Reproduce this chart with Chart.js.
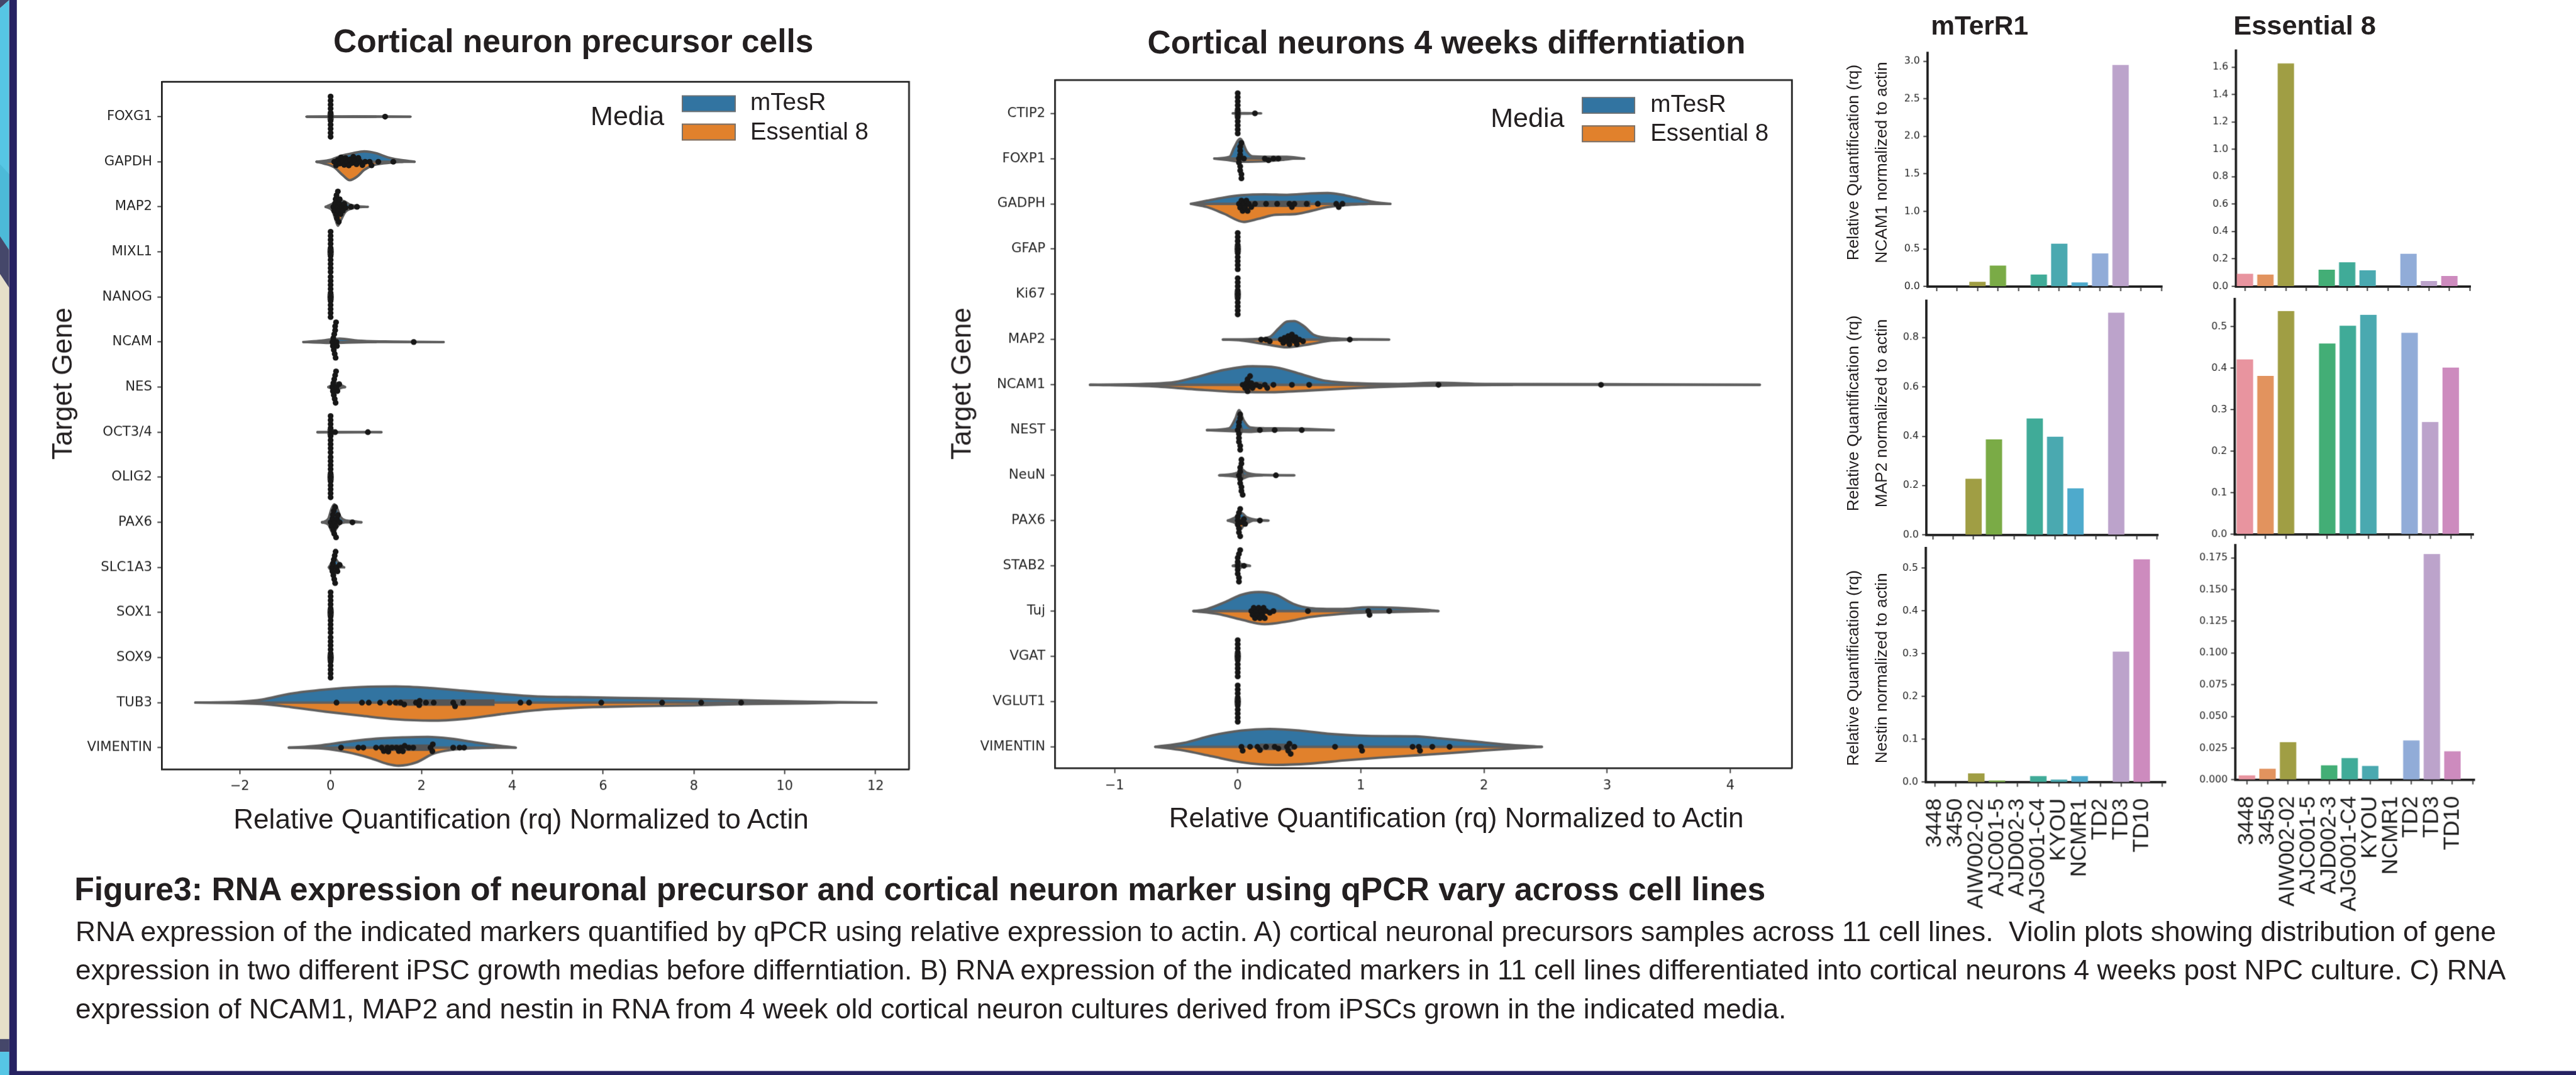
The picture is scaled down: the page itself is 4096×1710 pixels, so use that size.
<!DOCTYPE html>
<html>
<head>
<meta charset="utf-8">
<title>Figure 3 - qPCR expression</title>
<script src="https://cdn.jsdelivr.net/npm/chart.js@4.4.1/dist/chart.umd.min.js"></script>
<style>
  html, body { margin: 0; padding: 0; width: 4096px; height: 1710px; background: #fff; overflow: hidden; }
  #stage { position: absolute; left: 0; top: 0; width: 4436px; height: 1852px;
           transform: scale(0.923354); transform-origin: 0 0;
           font-family: "Liberation Sans", Arial, sans-serif; color: #231f20; }
  .deco, .plot, .t, .sw { position: absolute; }
  .t { white-space: nowrap; line-height: 1; }
  .sw { box-sizing: border-box; border: 2px solid #707070; }
</style>
</head>
<body>
<div id="stage">
  <!-- poster border on the left and bottom -->
  <div class="deco" style="left:0;top:0;width:16px;height:1852px;background:#e6e0c9"></div>
  <div class="deco" style="left:0;top:0;width:16px;height:14px;background:#45476a;clip-path:polygon(0 0,100% 0,0 100%)"></div>
  <div class="deco" style="left:0;top:0;width:16px;height:500px;background:#56c6e5;clip-path:polygon(0 14px,100% 0,100% 431px,0 407px)"></div>
  <div class="deco" style="left:0;top:0;width:16px;height:500px;background:#4cbad8;clip-path:polygon(0 283px,100% 300px,100% 431px,0 407px)"></div>
  <div class="deco" style="left:0;top:0;width:16px;height:500px;background:#45476a;clip-path:polygon(0 407px,100% 431px,100% 496px,0 472px)"></div>
  <div class="deco" style="left:0;top:1790px;width:16px;height:22px;background:#45476a"></div>
  <div class="deco" style="left:0;top:1812px;width:16px;height:40px;background:#56c6e5"></div>
  <div class="deco" style="left:16px;top:0;width:13px;height:1852px;background:#262262"></div>
  <div class="deco" style="left:16px;top:1845px;width:4420px;height:7px;background:#262262"></div>

  <div class="plot" id="vA"><canvas></canvas></div>
  <div class="plot" id="vB"><canvas></canvas></div>
  <div class="plot" id="bMN"><canvas></canvas></div>
  <div class="plot" id="bEN"><canvas></canvas></div>
  <div class="plot" id="bMM"><canvas></canvas></div>
  <div class="plot" id="bEM"><canvas></canvas></div>
  <div class="plot" id="bMS"><canvas></canvas></div>
  <div class="plot" id="bES"><canvas></canvas></div>

  <div class="sw" style="left:1174px;top:164px;width:93px;height:29px;background:#3274a1"></div>
  <div class="sw" style="left:1174px;top:213px;width:93px;height:29px;background:#e1812c"></div>
  <div class="sw" style="left:2724px;top:167px;width:92px;height:29px;background:#3274a1"></div>
  <div class="sw" style="left:2724px;top:216px;width:92px;height:29px;background:#e1812c"></div>
</div>
<script>
// ---------- A) cortical neuron precursors ----------
const precursorGenes = ['FOXG1', 'GAPDH', 'MAP2', 'MIXL1', 'NANOG', 'NCAM', 'NES', 'OCT3/4',
  'OLIG2', 'PAX6', 'SLC1A3', 'SOX1', 'SOX9', 'TUB3', 'VIMENTIN'];
const precursorTicks = [-2, 0, 2, 4, 6, 8, 10, 12];
// violin outlines as [rq, half width in rows]
const precursorMtesr = [
  [[-0.53, 0], [0.5, 0.004], [1.76, 0]],
  [[-0.31, 0], [0, 0.045], [0.23, 0.13], [0.49, 0.19], [0.74, 0.23], [1.0, 0.19], [1.25, 0.1], [1.5, 0.045], [1.85, 0]],
  [[-0.11, 0], [0.04, 0.07], [0.17, 0.15], [0.3, 0.125], [0.42, 0.05], [0.6, 0.015], [0.82, 0]],
  [], [],
  [[-0.6, 0], [-0.2, 0.03], [0.2, 0.075], [0.6, 0.03], [1.2, 0.012], [2.49, 0]],
  [[-0.05, 0], [0.05, 0.06], [0.12, 0.1], [0.2, 0.06], [0.32, 0]],
  [[-0.29, 0], [0.3, 0.004], [1.12, 0]],
  [],
  [[-0.19, 0], [-0.05, 0.08], [0.02, 0.3], [0.08, 0.4], [0.15, 0.3], [0.22, 0.12], [0.35, 0.04], [0.5, 0.025], [0.68, 0]],
  [[-0.04, 0], [0.03, 0.12], [0.08, 0.23], [0.14, 0.15], [0.22, 0.05], [0.3, 0]],
  [], [],
  [[-2.98, 0], [-2.0, 0.02], [-1.52, 0.065], [-0.88, 0.2], [-0.12, 0.29], [0.66, 0.345], [1.43, 0.36], [2.2, 0.325],
   [2.96, 0.26], [3.73, 0.195], [4.5, 0.14], [5.5, 0.12], [6.72, 0.1], [8.0, 0.08], [9.27, 0.05], [10.5, 0.02], [12.02, 0]],
  [[-0.92, 0], [-0.28, 0.045], [0.36, 0.13], [1.0, 0.2], [1.63, 0.23], [2.14, 0.24], [2.65, 0.2], [3.16, 0.12], [3.54, 0.065], [4.08, 0]]
];
const precursorE8 = [
  [[-0.53, 0], [0.3, 0.004], [1.0, 0]],
  [[-0.31, 0], [-0.15, 0.04], [0.08, 0.125], [0.27, 0.3], [0.42, 0.41], [0.59, 0.325], [0.74, 0.18], [0.97, 0.07], [1.35, 0.02], [1.6, 0]],
  [[-0.11, 0], [0.04, 0.09], [0.1, 0.26], [0.16, 0.42], [0.23, 0.29], [0.32, 0.12], [0.49, 0.03], [0.74, 0]],
  [], [],
  [[-0.6, 0], [0.1, 0.02], [0.5, 0.01], [1.0, 0]],
  [[-0.05, 0], [0.06, 0.05], [0.12, 0.07], [0.2, 0.03], [0.3, 0]],
  [[-0.29, 0], [0.2, 0.004], [0.8, 0]],
  [],
  [[-0.19, 0], [-0.05, 0.05], [0.02, 0.2], [0.06, 0.26], [0.12, 0.15], [0.2, 0.04], [0.3, 0]],
  [[-0.04, 0], [0.03, 0.1], [0.07, 0.16], [0.12, 0.08], [0.2, 0]],
  [], [],
  [[-2.98, 0], [-1.52, 0.03], [-0.88, 0.1], [-0.12, 0.2], [0.66, 0.29], [1.43, 0.37], [2.2, 0.4], [2.96, 0.36],
   [3.73, 0.26], [4.5, 0.17], [5.5, 0.11], [6.72, 0.08], [8.0, 0.06], [9.27, 0.03], [10.5, 0.015], [11.2, 0]],
  [[-0.92, 0], [-0.16, 0.02], [0.36, 0.1], [0.87, 0.23], [1.25, 0.36], [1.5, 0.4], [1.88, 0.33], [2.27, 0.13], [2.65, 0.05], [3.2, 0.01], [3.6, 0]]
];
const precursorBox = [[0, 0], [0.3, 0.7], [0.1, 0.22], [0, 0], [0, 0], [0.05, 0.12], [0.06, 0.12], [0, 0],
  [0, 0], [0.04, 0.12], [0.05, 0.12], [0, 0], [0, 0], [1.44, 3.61], [1.1, 2.2]];
const precursorDots = [
  [0, 0, 0, 0, 0, 0, 0, 0, 0, 0, 0, 1.2],
  [0.08, 0.12, 0.16, 0.2, 0.23, 0.27, 0.3, 0.33, 0.36, 0.4, 0.43, 0.47, 0.5, 0.54, 0.57, 0.61, 0.65, 0.7, 0.76, 0.86, 0.9, 1.05, 1.38],
  [0.06, 0.08, 0.1, 0.11, 0.12, 0.13, 0.14, 0.15, 0.16, 0.17, 0.18, 0.19, 0.2, 0.22, 0.24, 0.27, 0.3, 0.33, 0.45, 0.58],
  [0, 0, 0, 0, 0, 0, 0, 0, 0, 0, 0],
  [0, 0, 0, 0, 0, 0, 0, 0, 0, 0, 0],
  [0.04, 0.05, 0.06, 0.07, 0.08, 0.09, 0.1, 0.1, 0.11, 0.12, 0.13, 0.14, 1.83],
  [0.04, 0.05, 0.06, 0.07, 0.08, 0.09, 0.1, 0.11, 0.12, 0.13, 0.15, 0.19],
  [0, 0, 0, 0, 0, 0, 0, 0, 0, 0, 0.1, 0.82],
  [0, 0, 0, 0, 0, 0, 0, 0, 0, 0, 0],
  [0, 0.02, 0.04, 0.05, 0.06, 0.07, 0.08, 0.09, 0.1, 0.11, 0.12, 0.14, 0.16, 0.2, 0.48],
  [0.03, 0.04, 0.05, 0.06, 0.07, 0.08, 0.09, 0.1, 0.11, 0.13, 0.15, 0.2],
  [0, 0, 0, 0, 0, 0, 0, 0, 0, 0, 0],
  [0, 0, 0, 0, 0, 0, 0, 0, 0, 0, 0],
  [0.13, 0.69, 0.84, 1.09, 1.3, 1.43, 1.54, 1.62, 1.88, 1.95, 1.96, 2.1, 2.27, 2.7, 2.74, 2.92, 4.18, 4.37, 5.96, 7.3, 8.16, 9.04],
  [0.23, 0.61, 0.72, 1.0, 1.12, 1.17, 1.25, 1.27, 1.35, 1.45, 1.5, 1.55, 1.59, 1.63, 1.72, 1.82, 2.2, 2.24, 2.25, 2.7, 2.84, 2.94]
];

// ---------- B) cortical neurons, 4 weeks ----------
const neuronGenes = ['CTIP2', 'FOXP1', 'GADPH', 'GFAP', 'Ki67', 'MAP2', 'NCAM1', 'NEST', 'NeuN', 'PAX6',
  'STAB2', 'Tuj', 'VGAT', 'VGLUT1', 'VIMENTIN'];
const neuronTicks = [-1, 0, 1, 2, 3, 4];
const neuronMtesr = [
  [[-0.04, 0], [0.05, 0.005], [0.19, 0]],
  [[-0.19, 0], [-0.066, 0.04], [-0.03, 0.24], [0.02, 0.44], [0.075, 0.15], [0.12, 0.05], [0.26, 0.04], [0.4, 0.04], [0.54, 0]],
  [[-0.38, 0], [-0.25, 0.07], [-0.11, 0.14], [0.03, 0.19], [0.22, 0.21], [0.4, 0.2], [0.59, 0.23], [0.73, 0.24], [0.87, 0.19], [1.01, 0.1], [1.11, 0.04], [1.24, 0]],
  [], [],
  [[-0.12, 0], [0.12, 0.01], [0.26, 0.06], [0.33, 0.24], [0.4, 0.4], [0.46, 0.41], [0.54, 0.29], [0.62, 0.1], [0.78, 0.03], [1.23, 0]],
  [[-1.2, 0], [-0.54, 0.05], [-0.35, 0.16], [-0.11, 0.33], [0.12, 0.41], [0.31, 0.385], [0.54, 0.215], [0.69, 0.1], [0.97, 0.035],
   [1.3, 0.02], [1.62, 0.045], [2.0, 0.02], [2.94, 0.015], [4.24, 0]],
  [[-0.25, 0], [-0.07, 0.04], [-0.02, 0.25], [0.01, 0.44], [0.05, 0.21], [0.1, 0.06], [0.22, 0.04], [0.5, 0.03], [0.78, 0]],
  [[-0.15, 0], [0, 0.06], [0.03, 0.14], [0.07, 0.06], [0.2, 0.01], [0.46, 0]],
  [[-0.08, 0], [0, 0.1], [0.03, 0.17], [0.07, 0.08], [0.15, 0.02], [0.25, 0]],
  [[-0.04, 0], [0.02, 0.04], [0.1, 0]],
  [[-0.36, 0], [-0.25, 0.045], [-0.11, 0.19], [0.03, 0.36], [0.17, 0.42], [0.31, 0.36], [0.45, 0.16], [0.59, 0.065], [0.83, 0.045],
   [1.06, 0.085], [1.3, 0.07], [1.53, 0.03], [1.63, 0]],
  [], [],
  [[-0.67, 0], [-0.44, 0.085], [-0.21, 0.25], [0.03, 0.36], [0.26, 0.395], [0.5, 0.36], [0.73, 0.29], [0.97, 0.25], [1.2, 0.235],
   [1.44, 0.23], [1.67, 0.18], [1.91, 0.12], [2.17, 0.05], [2.47, 0]]
];
const neuronE8 = [
  [[-0.04, 0], [0.05, 0.005], [0.15, 0]],
  [[-0.19, 0], [-0.09, 0.03], [0.03, 0.07], [0.22, 0.06], [0.36, 0.03], [0.45, 0]],
  [[-0.38, 0], [-0.25, 0.07], [-0.11, 0.22], [0.05, 0.4], [0.17, 0.33], [0.31, 0.24], [0.45, 0.23], [0.59, 0.16], [0.73, 0.07], [0.87, 0.03], [1.06, 0]],
  [], [],
  [[-0.12, 0], [0.03, 0.02], [0.22, 0.1], [0.4, 0.17], [0.59, 0.1], [0.73, 0.03], [0.97, 0]],
  [[-1.2, 0], [-0.72, 0.03], [-0.35, 0.1], [-0.07, 0.15], [0.22, 0.165], [0.59, 0.125], [0.97, 0.07], [1.3, 0.035], [1.77, 0.01], [2.23, 0]],
  [[-0.25, 0], [0, 0.03], [0.1, 0.04], [0.2, 0.02], [0.5, 0]],
  [[-0.15, 0], [0, 0.04], [0.03, 0.08], [0.08, 0.03], [0.2, 0]],
  [[-0.08, 0], [0, 0.1], [0.02, 0.2], [0.05, 0.1], [0.12, 0]],
  [[-0.04, 0], [0.02, 0.03], [0.08, 0]],
  [[-0.36, 0], [-0.16, 0.065], [0.03, 0.19], [0.22, 0.29], [0.4, 0.23], [0.59, 0.13], [0.83, 0.065], [1.06, 0.03], [1.3, 0.02], [1.55, 0]],
  [], [],
  [[-0.67, 0], [-0.44, 0.08], [-0.21, 0.21], [0.03, 0.34], [0.31, 0.4], [0.59, 0.37], [0.87, 0.3], [1.15, 0.24], [1.44, 0.19],
   [1.72, 0.14], [2.0, 0.08], [2.28, 0.03], [2.47, 0]]
];
const neuronBox = [[0, 0], [0.01, 0.03], [0.03, 0.59], [0, 0], [0, 0], [0.38, 0.47], [0.07, 0.2], [0.01, 0.02],
  [0.02, 0.03], [0, 0.02], [0, 0.01], [0.15, 0.22], [0, 0], [0, 0], [0.18, 0.45]];
const neuronDots = [
  [0, 0, 0, 0, 0, 0, 0, 0, 0, 0, 0, 0.14],
  [0.01, 0.01, 0.02, 0.02, 0.02, 0.02, 0.02, 0.03, 0.03, 0.03, 0.05, 0.22, 0.25, 0.29, 0.33],
  [0.01, 0.02, 0.03, 0.04, 0.05, 0.06, 0.07, 0.08, 0.09, 0.11, 0.14, 0.23, 0.32, 0.42, 0.44, 0.46, 0.56, 0.65, 0.8, 0.82, 0.85],
  [0, 0, 0, 0, 0, 0, 0, 0, 0, 0],
  [0, 0, 0, 0, 0, 0, 0, 0, 0, 0],
  [0.19, 0.23, 0.26, 0.35, 0.37, 0.38, 0.4, 0.41, 0.42, 0.43, 0.44, 0.46, 0.47, 0.48, 0.5, 0.53, 0.91],
  [0.04, 0.06, 0.07, 0.08, 0.08, 0.09, 0.1, 0.11, 0.12, 0.15, 0.18, 0.22, 0.24, 0.29, 0.44, 0.58, 1.63, 2.95],
  [0, 0.01, 0.01, 0.01, 0.01, 0.01, 0.02, 0.02, 0.02, 0.02, 0.18, 0.3, 0.52],
  [0.01, 0.02, 0.02, 0.02, 0.02, 0.03, 0.03, 0.03, 0.03, 0.04, 0.31],
  [0, 0, 0, 0.01, 0.01, 0.01, 0.02, 0.02, 0.03, 0.05, 0.06, 0.18],
  [0, 0, 0, 0, 0, 0.01, 0.01, 0.01, 0.02, 0.05],
  [0.11, 0.12, 0.13, 0.14, 0.15, 0.16, 0.17, 0.18, 0.19, 0.2, 0.21, 0.22, 0.23, 0.26, 0.29, 0.57, 1.06, 1.07, 1.23],
  [0, 0, 0, 0, 0, 0, 0, 0, 0, 0],
  [0, 0, 0, 0, 0, 0, 0, 0, 0, 0],
  [0.03, 0.04, 0.1, 0.16, 0.18, 0.23, 0.3, 0.33, 0.4, 0.41, 0.42, 0.43, 0.46, 0.79, 1.0, 1.01, 1.42, 1.47, 1.48, 1.58, 1.72]
];

// ---------- C) bar charts, 11 cell lines ----------
const cellLines = ['3448', '3450', 'AIW002-02', 'AJC001-5', 'AJD002-3', 'AJG001-C4', 'KYOU', 'NCMR1', 'TD2', 'TD3', 'TD10'];
const lineSlots = [0, 1, 2, 3, 4, 5, 6, 7, 8, 9, 10, 11];
const lineColors = ['#e8949f', '#e2935e', '#a09e44', '#7aab46', '#43ae76', '#40ab98', '#4aa9b0', '#4eaacc', '#91acd8', '#bca3cb', '#cd8bbe'];
const mtesrNcam1 = [null, null, 0.063, 0.28, null, 0.16, 0.57, 0.055, 0.44, 2.95, null];
const e8Ncam1 = [0.092, 0.086, 1.627, null, 0.121, 0.175, 0.117, null, 0.237, 0.039, 0.076];
const mtesrMap2 = [null, null, 0.228, 0.387, null, 0.472, 0.398, 0.189, null, 0.901, null];
const e8Map2 = [0.421, 0.381, 0.537, null, 0.459, 0.502, 0.528, null, 0.485, 0.27, 0.401];
const mtesrNestin = [null, null, 0.0203, 0.0038, null, 0.0142, 0.0061, 0.0142, null, 0.305, 0.521];
const e8Nestin = [0.0035, 0.0087, 0.0297, null, 0.0115, 0.0172, 0.011, null, 0.031, 0.178, 0.0225];
const ticksNcam1M = [0, 0.5, 1, 1.5, 2, 2.5, 3];
const ticksNcam1E = [0, 0.2, 0.4, 0.6, 0.8, 1, 1.2, 1.4, 1.6];
const ticksMap2M = [0, 0.2, 0.4, 0.6, 0.8];
const ticksMap2E = [0, 0.1, 0.2, 0.3, 0.4, 0.5];
const ticksNestinM = [0, 0.1, 0.2, 0.3, 0.4, 0.5];
const ticksNestinE = [0, 0.025, 0.05, 0.075, 0.1, 0.125, 0.15, 0.175];

// ---------- drawing ----------
const S = 4096 / 4436;
const BLUE = '#3274a1', ORANGE = '#e1812c', EDGE = '#5f5f5f', BOXC = '#555555', DOT = '#171717', INK = '#262626';
const SANS = '"Liberation Sans", Arial, sans-serif';
const DEJA = '"DejaVu Sans", sans-serif';

function place(id, area, axW, axH, padT, padR) {
  const el = document.getElementById(id);
  el.style.left = (area[0] - axW) + 'px';
  el.style.top = (area[1] - padT) + 'px';
  el.style.width = (area[2] - area[0] + axW + padR) + 'px';
  el.style.height = (area[3] - area[1] + padT + axH) + 'px';
}

function baseOpts(padT, padR) {
  return {
    responsive: true, maintainAspectRatio: false, animation: false, events: [], devicePixelRatio: S,
    layout: { autoPadding: false, padding: { top: padT, right: padR, left: 0, bottom: 0 } },
    plugins: { legend: { display: false }, tooltip: { enabled: false }, title: { display: false } }
  };
}

// closes the box on top and right like matplotlib's default spines
const framePlugin = {
  id: 'frame',
  afterDatasetsDraw(chart, args, opts) {
    const { ctx, chartArea: a } = chart;
    ctx.save();
    ctx.strokeStyle = opts.color || '#222';
    ctx.lineWidth = opts.width || 3;
    ctx.beginPath();
    ctx.moveTo(a.left, a.top);
    ctx.lineTo(a.right, a.top);
    ctx.lineTo(a.right, a.bottom);
    ctx.stroke();
    ctx.restore();
  }
};

// beeswarm offsets (pixels) so dots do not overlap
function swarm(vals, pxPerX, d) {
  const placed = [];
  return vals.map(v => {
    const x = v * pxPerX;
    const near = placed.filter(p => Math.abs(p.x - x) < d);
    const cands = [0];
    near.forEach(p => {
      const dy = Math.sqrt(d * d - (p.x - x) * (p.x - x));
      cands.push(p.y + dy, p.y - dy);
    });
    cands.sort((a, b) => Math.abs(a) - Math.abs(b));
    const y = cands.find(c => near.every(p => (p.x - x) ** 2 + (p.y - c) ** 2 >= d * d - 0.01));
    placed.push({ x, y });
    return y;
  });
}

function violinChart(id, area, genes, mt, e8, box, dots, xr, yr, xTicks, px) {
  const axW = 200, axH = 90, padT = 10, padR = 10;
  place(id, area, axW, axH, padT, padR);
  const sets = [];
  const half = (pts, i, sign, color) => ({
    data: pts.map(([x, h]) => ({ x, y: i + sign * h })), fill: { value: i }, backgroundColor: color,
    borderColor: EDGE, borderWidth: 4.2, borderJoinStyle: 'round', borderCapStyle: 'round',
    pointRadius: 0, cubicInterpolationMode: 'monotone', order: 5
  });
  const seg = (a, b, i, w, color, order) => ({
    data: [{ x: a, y: i }, { x: b, y: i }], borderColor: color, borderWidth: w, borderCapStyle: 'butt',
    pointRadius: 0, fill: false, order
  });
  genes.forEach((g, i) => {
    if (mt[i].length) {
      sets.push(half(mt[i], i, -1, BLUE));
      sets.push(half(e8[i], i, 1, ORANGE));
      const lo = Math.min(mt[i][0][0], e8[i][0][0]);
      const hi = Math.max(mt[i][mt[i].length - 1][0], e8[i][e8[i].length - 1][0]);
      sets.push(seg(lo, hi, i, 4.2, EDGE, 4));
    }
    let [q1, q3] = box[i];
    const m = 5.5 / px.x;
    if (q3 - q1 < 2 * m) { const c = (q1 + q3) / 2; q1 = c - m; q3 = c + m; }
    sets.push(seg(q1, q3, i, 11, BOXC, 3));
  });
  const pts = [];
  dots.forEach((vals, i) => {
    const offs = swarm(vals, px.x, 7);
    vals.forEach((v, k) => pts.push({ x: v, y: i + offs[k] / px.y }));
  });
  sets.push({ data: pts, showLine: false, pointRadius: 5, pointBackgroundColor: DOT, pointBorderWidth: 0, order: 0 });

  new Chart(document.querySelector('#' + id + ' canvas'), {
    type: 'line',
    data: { datasets: sets },
    plugins: [framePlugin],
    options: Object.assign(baseOpts(padT, padR), {
      scales: {
        x: {
          type: 'linear', min: xr[0], max: xr[1],
          afterBuildTicks: s => { s.ticks = xTicks.map(v => ({ value: v })); },
          afterFit: s => { s.height = axH; },
          grid: { drawOnChartArea: false, drawTicks: true, tickLength: 8, tickWidth: 2, tickColor: '#333' },
          border: { display: true, color: '#222', width: 3 },
          ticks: { padding: 8, color: INK, font: { family: DEJA, size: 22.5 },
                   callback: v => v < 0 ? '\u2212' + Math.abs(v) : String(v) }
        },
        y: {
          type: 'linear', reverse: true, min: yr[0], max: yr[1],
          afterBuildTicks: s => { s.ticks = genes.map((g, i) => ({ value: i })); },
          afterFit: s => { s.width = axW; },
          grid: { drawOnChartArea: false, drawTicks: true, tickLength: 8, tickWidth: 2, tickColor: '#333' },
          border: { display: true, color: '#222', width: 3 },
          ticks: { padding: 9, color: INK, font: { family: DEJA, size: 23 }, callback: v => genes[v] }
        }
      }
    })
  });
}

function barChart(id, area, xr, yMax, vals, yTicks, dec, withLabels) {
  const axW = 70, axH = withLabels ? 290 : 16, padT = 6, padR = 8;
  place(id, area, axW, axH, padT, padR);
  new Chart(document.querySelector('#' + id + ' canvas'), {
    type: 'bar',
    data: { datasets: [{
      data: vals.map((v, i) => ({ x: i, y: v })), backgroundColor: lineColors, borderWidth: 0,
      barPercentage: 0.8, categoryPercentage: 1
    }] },
    options: Object.assign(baseOpts(padT, padR), {
      scales: {
        x: {
          type: 'linear', min: xr[0], max: xr[1], offset: false,
          afterBuildTicks: s => { s.ticks = lineSlots.map(v => ({ value: v })); },
          afterFit: s => { s.height = axH; },
          grid: { drawOnChartArea: false, drawTicks: true, tickLength: 8, tickWidth: 2, tickColor: '#333', offset: false },
          border: { display: true, color: '#1e1e1e', width: 4 },
          ticks: { autoSkip: false, minRotation: 90, maxRotation: 90, padding: 20, color: '#1e1e1e',
                   font: { family: SANS, size: 38 }, callback: v => withLabels ? (cellLines[v] || '') : '' }
        },
        y: {
          type: 'linear', min: 0, max: yMax,
          afterBuildTicks: s => { s.ticks = yTicks.map(v => ({ value: v })); },
          afterFit: s => { s.width = axW; },
          grid: { drawOnChartArea: false, drawTicks: true, tickLength: 7, tickWidth: 2, tickColor: '#333' },
          border: { display: true, color: '#1e1e1e', width: 4 },
          ticks: { padding: 6, color: INK, font: { family: DEJA, size: 17 }, callback: v => v.toFixed(dec) }
        }
      }
    })
  });
}

// ---------- text ----------
const stage = document.getElementById('stage');
const fits = [];
function txt(str, x, base, size, o = {}) {
  const d = document.createElement('div');
  d.className = 't';
  d.textContent = str;
  d.style.fontSize = size + 'px';
  if (o.bold) d.style.fontWeight = 'bold';
  if (o.rot) {
    // rotated reading bottom-to-top, x is the baseline, base is the vertical centre
    d.style.left = (x - 0.3465 * size) + 'px';
    d.style.top = base + 'px';
    d.style.transform = 'translate(-50%,-50%) rotate(-90deg)';
  } else {
    d.style.left = x + 'px';
    d.style.top = (base - 0.8465 * size) + 'px';
  }
  stage.appendChild(d);
  if (o.w) fits.push({ d, x, base, size, o });
  return d;
}

function fitAll() {
  fits.forEach(f => {
    const w = f.d.offsetWidth;
    if (!w) return;
    const s = f.size * f.o.w / w;
    f.d.style.fontSize = s + 'px';
    if (f.o.rot) f.d.style.left = (f.x - 0.3465 * s) + 'px';
    else f.d.style.top = (f.base - 0.8465 * s) + 'px';
    if (f.o.same) f.o.same.forEach(g => {
      g.d.style.fontSize = s + 'px';
      g.d.style.top = (g.base - 0.8465 * s) + 'px';
    });
  });
}

txt('Cortical neuron precursor cells', 574, 91.5, 56, { bold: true, w: 827 });
txt('Cortical neurons 4 weeks differntiation', 1976, 92.4, 56, { bold: true, w: 1030 });
txt('mTerR1', 3325, 60, 46, { bold: true, w: 168 });
txt('Essential 8', 3846, 60, 47, { bold: true, w: 246 });

txt('Media', 1017, 216, 47, { w: 127 });
txt('mTesR', 1292, 191, 41, { w: 131 });
txt('Essential 8', 1292, 240, 41, { w: 204 });
txt('Media', 2567, 219, 47, { w: 127 });
txt('mTesR', 2842, 194, 41, { w: 131 });
txt('Essential 8', 2842, 243, 41, { w: 204 });

txt('Relative Quantification (rq) Normalized to Actin', 402, 1427, 47.7, { w: 991 });
txt('Relative Quantification (rq) Normalized to Actin', 2013, 1425, 47.7, { w: 990 });
txt('Target Gene', 123, 661, 46.7, { rot: true, w: 262 });
txt('Target Gene', 1671, 661, 46.7, { rot: true, w: 262 });

[['NCAM1', 280], ['MAP2', 712], ['Nestin', 1151]].forEach(([g, cy]) => {
  txt('Relative Quantification (rq)', 3201, cy, 28.5, { rot: true });
  txt(g + ' normalized to actin', 3249, cy, 28.5, { rot: true });
});

txt('Figure3: RNA expression of neuronal precursor and cortical neuron marker using qPCR vary across cell lines',
  128, 1551, 57, { bold: true, w: 2913 });
const cap2 = { d: txt('expression in two different iPSC growth medias before differntiation. B) RNA expression of the indicated markers in 11 cell lines differentiated into cortical neurons 4 weeks post NPC culture. C) RNA', 130, 1688, 47), base: 1688 };
const cap3 = { d: txt('expression of NCAM1, MAP2 and nestin in RNA from 4 week old cortical neuron cultures derived from iPSCs grown in the indicated media.', 130, 1755, 47), base: 1755 };
txt('RNA expression of the indicated markers quantified by qPCR using relative expression to actin. A) cortical neuronal precursors samples across 11 cell lines.  Violin plots showing distribution of gene',
  130, 1622, 47, { w: 4170, same: [cap2, cap3] }).style.whiteSpace = 'pre';

// ---------- charts ----------
violinChart('vA', [279, 128, 1565, 1325], precursorGenes, precursorMtesr, precursorE8, precursorBox, precursorDots,
  [-3.712, 12.737], [-0.775, 14.484], precursorTicks, { x: 78.18, y: 78.44 });
violinChart('vB', [1817, 125, 3085, 1323.5], neuronGenes, neuronMtesr, neuronE8, neuronBox, neuronDots,
  [-1.482, 4.5], [-0.737, 14.48], neuronTicks, { x: 211.9, y: 78.76 });

barChart('bMN', [3319, 81, 3779, 493], [-0.45, 11.05], 3.11, mtesrNcam1, ticksNcam1M, 1, false);
barChart('bEN', [3850, 77, 4310, 493], [-0.45, 11.05], 1.72, e8Ncam1, ticksNcam1E, 1, false);
barChart('bMM', [3317, 508, 3772, 921], [-0.325, 11.05], 0.949, mtesrMap2, ticksMap2M, 1, false);
barChart('bEM', [3848, 505, 4313, 920], [-0.5, 11.1], 0.566, e8Map2, ticksMap2E, 1, false);
barChart('bMS', [3316, 934, 3781, 1347], [-0.45, 11.18], 0.547, mtesrNestin, ticksNestinM, 1, true);
barChart('bES', [3849, 929, 4316, 1343], [-0.575, 11.1], 0.185, e8Nestin, ticksNestinE, 3, true);

if (document.fonts && document.fonts.ready) document.fonts.ready.then(fitAll); else fitAll();
</script>
</body>
</html>
